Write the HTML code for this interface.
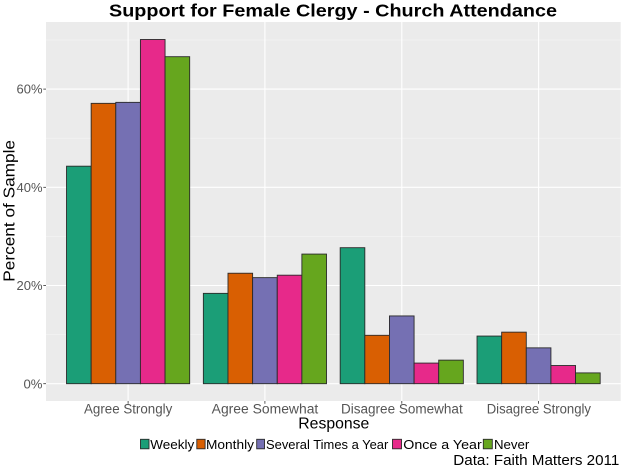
<!DOCTYPE html>
<html><head><meta charset="utf-8"><style>
html,body{margin:0;padding:0;background:#fff;}
svg{display:block;font-family:"Liberation Sans",sans-serif;}
</style></head><body>
<svg width="624" height="468" viewBox="0 0 624 468" xmlns="http://www.w3.org/2000/svg">
<rect x="0" y="0" width="624" height="468" fill="#fff"/>
<!-- panel -->
<rect x="46" y="22" width="574.7" height="379" fill="#EBEBEB"/>
<!-- minor grid -->
<g stroke="#F5F5F5" stroke-width="0.6">
<line x1="46" x2="620.7" y1="334.6" y2="334.6"/>
<line x1="46" x2="620.7" y1="236.4" y2="236.4"/>
<line x1="46" x2="620.7" y1="138.2" y2="138.2"/>
<line x1="46" x2="620.7" y1="40.0" y2="40.0"/>
</g>
<!-- major grid -->
<g stroke="#FFFFFF" stroke-width="1.1">
<line x1="46" x2="620.7" y1="383.7" y2="383.7"/>
<line x1="46" x2="620.7" y1="285.5" y2="285.5"/>
<line x1="46" x2="620.7" y1="187.3" y2="187.3"/>
<line x1="46" x2="620.7" y1="89.1" y2="89.1"/>
<line y1="22" y2="401" x1="128.1" x2="128.1"/>
<line y1="22" y2="401" x1="264.9" x2="264.9"/>
<line y1="22" y2="401" x1="401.8" x2="401.8"/>
<line y1="22" y2="401" x1="538.6" x2="538.6"/>
</g>
<!-- bars -->
<g stroke="#2a2a2a" stroke-width="0.9">
<rect x="66.53" y="166.19" width="24.63" height="217.51" fill="#1B9E77"/>
<rect x="91.16" y="103.34" width="24.63" height="280.36" fill="#D95F02"/>
<rect x="115.79" y="102.36" width="24.63" height="281.34" fill="#7570B3"/>
<rect x="140.42" y="39.51" width="24.63" height="344.19" fill="#E7298A"/>
<rect x="165.05" y="56.69" width="24.63" height="327.01" fill="#66A61E"/>

<rect x="203.36" y="293.36" width="24.63" height="90.34" fill="#1B9E77"/>
<rect x="227.99" y="273.23" width="24.63" height="110.47" fill="#D95F02"/>
<rect x="252.62" y="277.64" width="24.63" height="106.06" fill="#7570B3"/>
<rect x="277.25" y="275.19" width="24.63" height="108.51" fill="#E7298A"/>
<rect x="301.88" y="254.08" width="24.63" height="129.62" fill="#66A61E"/>

<rect x="340.19" y="247.69" width="24.63" height="136.01" fill="#1B9E77"/>
<rect x="364.82" y="335.29" width="24.63" height="48.41" fill="#D95F02"/>
<rect x="389.45" y="315.94" width="24.63" height="67.76" fill="#7570B3"/>
<rect x="414.08" y="363.08" width="24.63" height="20.62" fill="#E7298A"/>
<rect x="438.71" y="360.13" width="24.63" height="23.57" fill="#66A61E"/>

<rect x="477.03" y="336.07" width="24.63" height="47.63" fill="#1B9E77"/>
<rect x="501.66" y="332.15" width="24.63" height="51.55" fill="#D95F02"/>
<rect x="526.29" y="347.86" width="24.63" height="35.84" fill="#7570B3"/>
<rect x="550.92" y="365.53" width="24.63" height="18.17" fill="#E7298A"/>
<rect x="575.55" y="372.90" width="24.63" height="10.80" fill="#66A61E"/>
</g>
<!-- y ticks -->
<g stroke="#333" stroke-width="0.8">
<line x1="43.3" x2="46" y1="383.7" y2="383.7"/>
<line x1="43.3" x2="46" y1="285.5" y2="285.5"/>
<line x1="43.3" x2="46" y1="187.3" y2="187.3"/>
<line x1="43.3" x2="46" y1="89.1" y2="89.1"/>
<line y1="401" y2="403.7" x1="128.1" x2="128.1"/>
<line y1="401" y2="403.7" x1="264.9" x2="264.9"/>
<line y1="401" y2="403.7" x1="401.8" x2="401.8"/>
<line y1="401" y2="403.7" x1="538.6" x2="538.6"/>
</g>
<g fill="#555" font-size="13" text-anchor="end">
<text x="42.5" y="388.3" textLength="19" lengthAdjust="spacingAndGlyphs">0%</text>
<text x="42.5" y="290.1" textLength="26" lengthAdjust="spacingAndGlyphs">20%</text>
<text x="42.5" y="191.9" textLength="26" lengthAdjust="spacingAndGlyphs">40%</text>
<text x="42.5" y="93.7" textLength="26" lengthAdjust="spacingAndGlyphs">60%</text>
</g>
<g fill="#555" font-size="13.5">
<text x="84" y="413.3" textLength="88.3" lengthAdjust="spacingAndGlyphs">Agree Strongly</text>
<text x="211.7" y="413.3" textLength="106.6" lengthAdjust="spacingAndGlyphs">Agree Somewhat</text>
<text x="341" y="413.3" textLength="121.7" lengthAdjust="spacingAndGlyphs">Disagree Somewhat</text>
<text x="486.7" y="413.3" textLength="104.3" lengthAdjust="spacingAndGlyphs">Disagree Strongly</text>
</g>
<!-- titles -->
<text x="109" y="16.7" font-size="17.5" font-weight="bold" fill="#000" textLength="448" lengthAdjust="spacingAndGlyphs">Support for Female Clergy - Church Attendance</text>
<text x="298.3" y="428.3" font-size="16" fill="#000" textLength="71" lengthAdjust="spacingAndGlyphs">Response</text>
<text transform="translate(14.5,281.7) rotate(-90)" x="0" y="0" font-size="15.5" fill="#000" textLength="141.7" lengthAdjust="spacingAndGlyphs">Percent of Sample</text>
<!-- legend -->
<g stroke="#2a2a2a" stroke-width="0.9">
<rect x="140.5" y="439.3" width="8.5" height="9.5" fill="#1B9E77"/>
<rect x="196.8" y="439.3" width="8.3" height="9.5" fill="#D95F02"/>
<rect x="256.7" y="439.3" width="7.8" height="9.5" fill="#7570B3"/>
<rect x="392.5" y="439.3" width="9" height="9.5" fill="#E7298A"/>
<rect x="483.3" y="439.3" width="9" height="9.5" fill="#66A61E"/>
</g>
<g fill="#000" font-size="13">
<text x="150.3" y="449" textLength="44" lengthAdjust="spacingAndGlyphs">Weekly</text>
<text x="206" y="449" textLength="48" lengthAdjust="spacingAndGlyphs">Monthly</text>
<text x="266" y="449" textLength="122.3" lengthAdjust="spacingAndGlyphs">Several Times a Year</text>
<text x="403.3" y="449" textLength="78.4" lengthAdjust="spacingAndGlyphs">Once a Year</text>
<text x="494" y="449" textLength="35.3" lengthAdjust="spacingAndGlyphs">Never</text>
</g>
<text x="453.3" y="465" font-size="14.8" fill="#000" textLength="166" lengthAdjust="spacingAndGlyphs">Data: Faith Matters 2011</text>
</svg>
</body></html>
